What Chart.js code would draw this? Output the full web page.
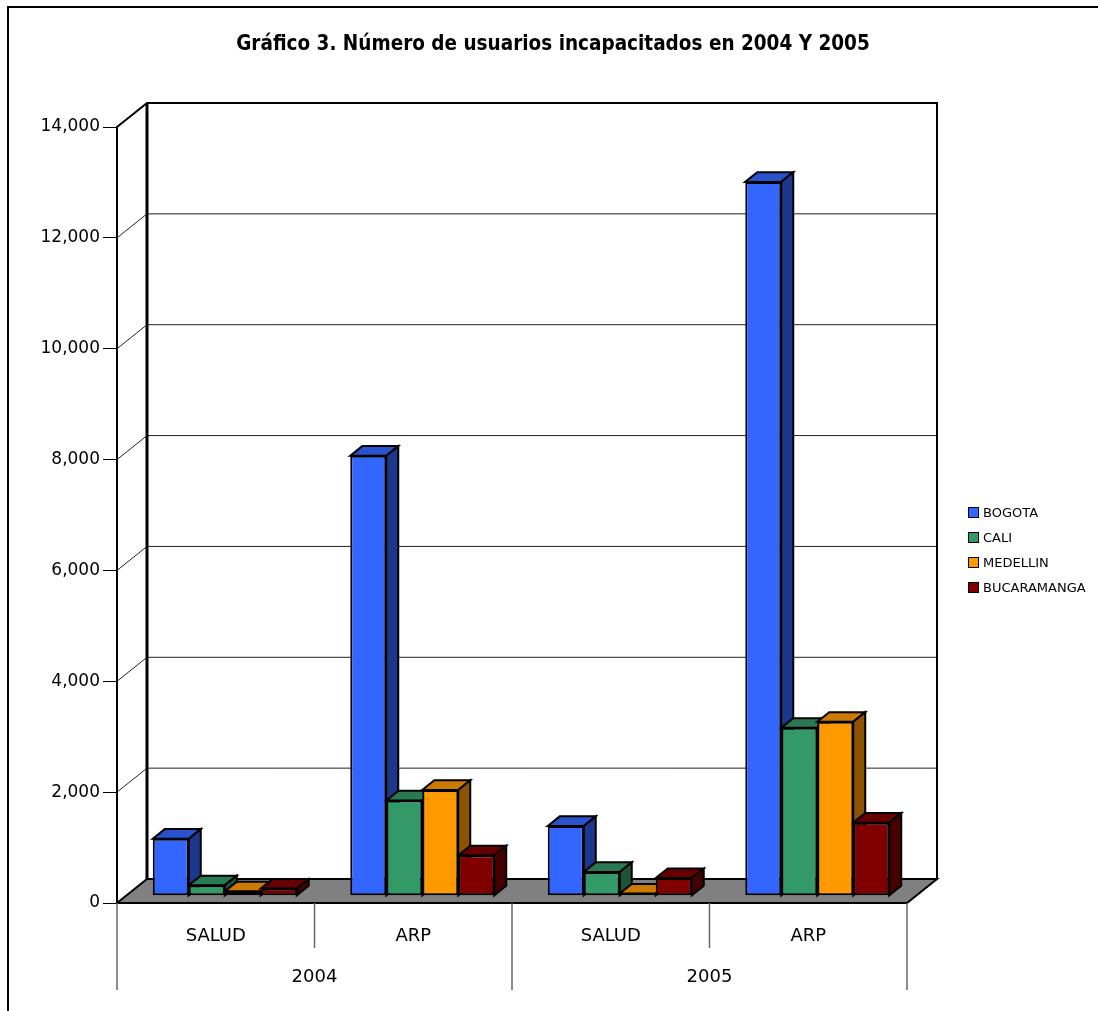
<!DOCTYPE html>
<html>
<head>
<meta charset="utf-8">
<script src="https://cdn.jsdelivr.net/npm/chart.js@4.4.1/dist/chart.umd.min.js"></script>
<style>
  body { margin: 0; background: #fff; overflow: hidden; }
  #marco { position: absolute; left: 7px; top: 6px; width: 2000px; height: 2000px; border: 2px solid #000; }
  #caja { position: absolute; left: 0; top: 0; width: 1098px; height: 1011px; }
  #leyenda { position: absolute; left: 968px; top: 500px; font: 13px "DejaVu Sans", sans-serif; color: #000; }
  .item { height: 25px; display: flex; align-items: center; }
  .cuadro { width: 9px; height: 9px; border: 1px solid #000; margin-right: 4px; }
</style>
</head>
<body>
<div id="marco"></div>
<div id="caja"><canvas id="grafico"></canvas></div>
<div id="leyenda"></div>
<script>
// datos
const titulo = "Gráfico 3. Número de usuarios incapacitados en 2004 Y 2005";
const categorias = ["SALUD", "ARP", "SALUD", "ARP"];
const anios = ["2004", "2005"];
const ciudades = ["BOGOTA", "CALI", "MEDELLIN", "BUCARAMANGA"];
const bogota = [1030, 7940, 1260, 12880];
const cali = [190, 1720, 430, 3030];
const medellin = [80, 1910, 40, 3140];
const bucaramanga = [130, 730, 320, 1320];

const colores = ["#3366FF", "#339966", "#FF9900", "#800000"];

// profundidad de la caja 3D
const PX = 30, PY = -24;
const FRENTE = 0.3, FONDO = 0.4;

function oscurecer(hex, f) {
    const n = parseInt(hex.slice(1), 16);
    const r = Math.round(((n >> 16) & 255) * f);
    const g = Math.round(((n >> 8) & 255) * f);
    const b = Math.round((n & 255) * f);
    return "rgb(" + r + "," + g + "," + b + ")";
}

const caja3d = {
    id: "caja3d",
    beforeDatasetsDraw(chart) {
        const ctx = chart.ctx;
        const a = chart.chartArea;
        const y = chart.scales.y;

        ctx.save();
        ctx.lineJoin = "miter";

        // lineas de division en pared izquierda y fondo
        y.ticks.forEach((t) => {
            if (t.value === 0 || t.value === y.max) return;
            const py = y.getPixelForValue(t.value);
            ctx.beginPath();
            ctx.moveTo(a.left, py);
            ctx.lineTo(a.left + PX, py + PY);
            ctx.lineTo(a.right + PX, py + PY);
            ctx.strokeStyle = "#222";
            ctx.lineWidth = 1;
            ctx.stroke();
        });

        // bordes de la pared
        ctx.strokeStyle = "#000";
        ctx.lineWidth = 2;
        ctx.beginPath();
        ctx.moveTo(a.left, a.top);
        ctx.lineTo(a.left + PX, a.top + PY);
        ctx.lineTo(a.right + PX, a.top + PY);
        ctx.lineTo(a.right + PX, a.bottom + PY);
        ctx.stroke();
        ctx.lineWidth = 3;
        ctx.beginPath();
        ctx.moveTo(a.left + PX, a.top + PY);
        ctx.lineTo(a.left + PX, a.bottom + PY);
        ctx.stroke();

        // piso
        ctx.beginPath();
        ctx.moveTo(a.left, a.bottom);
        ctx.lineTo(a.right, a.bottom);
        ctx.lineTo(a.right + PX, a.bottom + PY);
        ctx.lineTo(a.left + PX, a.bottom + PY);
        ctx.closePath();
        ctx.fillStyle = "#808080";
        ctx.fill();
        ctx.lineWidth = 2;
        ctx.stroke();

        // caras superior y lateral de cada barra
        const dx = PX * FONDO, dy = PY * FONDO;
        const barras = [];
        chart.data.datasets.forEach((ds, i) => {
            chart.getDatasetMeta(i).data.forEach((el) => barras.push({ el: el, color: ds.backgroundColor }));
        });
        barras.sort((p, q) => p.el.x - q.el.x);

        ctx.translate(PX * FRENTE, PY * FRENTE);
        ctx.lineWidth = 2;
        ctx.strokeStyle = "#000";
        barras.forEach((b) => {
            const izq = b.el.x - b.el.width / 2;
            const der = b.el.x + b.el.width / 2;
            const arriba = b.el.y;
            const abajo = b.el.base;

            ctx.beginPath();
            ctx.moveTo(izq, arriba);
            ctx.lineTo(izq + dx, arriba + dy);
            ctx.lineTo(der + dx, arriba + dy);
            ctx.lineTo(der, arriba);
            ctx.closePath();
            ctx.fillStyle = oscurecer(b.color, 0.8);
            ctx.fill();
            ctx.stroke();

            ctx.beginPath();
            ctx.moveTo(der, arriba);
            ctx.lineTo(der + dx, arriba + dy);
            ctx.lineTo(der + dx, abajo + dy);
            ctx.lineTo(der, abajo);
            ctx.closePath();
            ctx.fillStyle = oscurecer(b.color, 0.55);
            ctx.fill();
            ctx.stroke();
        });
        ctx.restore();

        // la cara frontal la dibuja Chart.js desplazada
        ctx.save();
        ctx.translate(PX * FRENTE, PY * FRENTE);
    },
    afterDatasetsDraw(chart) {
        chart.ctx.restore();
    },
    afterDraw(chart) {
        const ctx = chart.ctx;
        const a = chart.chartArea;
        const x = chart.scales.x;
        const centros = categorias.map((c, i) => x.getPixelForTick(i));

        // separadores de categorias
        const limites = [a.left];
        for (let i = 0; i < centros.length - 1; i++) limites.push((centros[i] + centros[i + 1]) / 2);
        limites.push(a.right);

        ctx.save();
        ctx.strokeStyle = "#666";
        ctx.lineWidth = 1.5;
        limites.forEach((lx, i) => {
            ctx.beginPath();
            ctx.moveTo(lx, a.bottom);
            ctx.lineTo(lx, a.bottom + (i % 2 === 0 ? 87 : 45));
            ctx.stroke();
        });

        // etiquetas de año
        ctx.fillStyle = "#000";
        ctx.font = "18px 'DejaVu Sans', sans-serif";
        ctx.textAlign = "center";
        ctx.textBaseline = "middle";
        anios.forEach((anio, i) => {
            ctx.fillText(anio, (centros[2 * i] + centros[2 * i + 1]) / 2, a.bottom + 74);
        });

        // titulo centrado en todo el recuadro
        ctx.font = "bold 20.5px 'DejaVu Sans Condensed', 'DejaVu Sans', sans-serif";
        ctx.fillText(titulo, chart.width / 2 + 4, 45);
        ctx.restore();
    }
};

Chart.defaults.font.family = "'DejaVu Sans', sans-serif";
Chart.defaults.color = "#000";

const series = [bogota, cali, medellin, bucaramanga];

new Chart(document.getElementById("grafico"), {
    type: "bar",
    data: {
        labels: categorias,
        datasets: series.map((valores, i) => ({
            label: ciudades[i],
            data: valores,
            backgroundColor: colores[i],
            borderColor: "#000",
            borderWidth: 2,
            borderSkipped: false,
            categoryPercentage: 0.729,
            barPercentage: 1.0,
            clip: false
        }))
    },
    options: {
        responsive: true,
        maintainAspectRatio: false,
        animation: false,
        layout: { padding: { left: 8, right: 191, top: 127, bottom: 0 } },
        plugins: {
            legend: { display: false },
            tooltip: { enabled: false },
            title: { display: false }
        },
        scales: {
            x: {
                grid: { display: false },
                border: { display: false },
                ticks: { font: { size: 18 }, color: "#000", padding: 15 },
                afterFit: (scale) => { scale.height = 108; }
            },
            y: {
                min: 0,
                max: 14000,
                ticks: {
                    stepSize: 2000,
                    font: { size: 17 },
                    color: "#000",
                    padding: 3,
                    callback: (v) => v.toLocaleString("en-US")
                },
                grid: { drawOnChartArea: false, drawTicks: true, tickLength: 14, color: "#000", lineWidth: 1 },
                border: { display: true, color: "#000", width: 2 },
                afterFit: (scale) => { scale.width = 109; }
            }
        }
    },
    plugins: [caja3d]
});

// leyenda
const leyenda = document.getElementById("leyenda");
ciudades.forEach((nombre, i) => {
    const item = document.createElement("div");
    item.className = "item";
    const cuadro = document.createElement("span");
    cuadro.className = "cuadro";
    cuadro.style.background = colores[i];
    item.appendChild(cuadro);
    const texto = document.createElement("span");
    texto.textContent = nombre;
    item.appendChild(texto);
    leyenda.appendChild(item);
});
</script>
</body>
</html>
